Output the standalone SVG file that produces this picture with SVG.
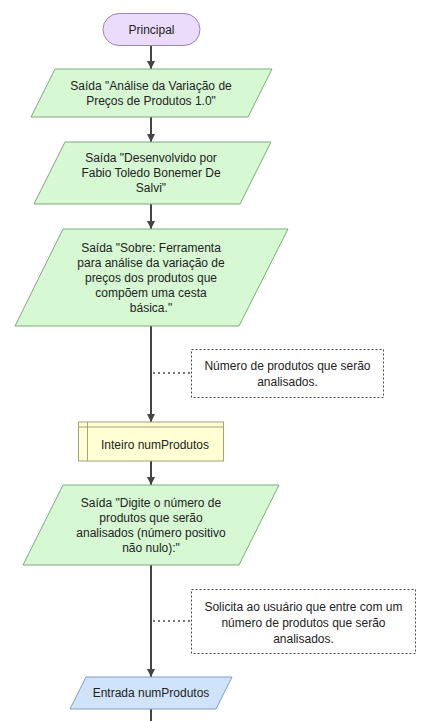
<svg xmlns="http://www.w3.org/2000/svg" width="436" height="721" viewBox="0 0 436 721">
<style>
text{font-family:"Liberation Sans",Arial,sans-serif;font-size:12px;fill:#222;text-anchor:middle;dominant-baseline:central}
.out{fill:#d6f8d3;stroke:#7fa97c;stroke-width:1}
.in{fill:#cfe4fb;stroke:#7d9ec4;stroke-width:1}
.term{fill:#ebdcfb;stroke:#9d82bd;stroke-width:1}
.decl{fill:#ffffd3;stroke:#a3a379;stroke-width:1}
.flow{stroke:#444;stroke-width:2;fill:none}
.note{fill:#fff;stroke:#444;stroke-width:1;stroke-dasharray:2,2}
.dot{stroke:#777;stroke-width:2;stroke-dasharray:2,3;fill:none}
</style>
<defs>
<marker id="ah" viewBox="0 0 8 8" refX="8" refY="4" markerWidth="8" markerHeight="8" markerUnits="userSpaceOnUse" orient="auto">
<path d="M0,0 L8,4 L0,8 z" fill="#444"/>
</marker>
</defs>
<rect width="436" height="721" fill="#fff"/>
<g id="connectors">
<line class="flow" x1="151" y1="46" x2="151" y2="69" marker-end="url(#ah)"/>
<line class="flow" x1="151" y1="117" x2="151" y2="142" marker-end="url(#ah)"/>
<line class="flow" x1="151" y1="204" x2="151" y2="229" marker-end="url(#ah)"/>
<line class="flow" x1="151" y1="326" x2="151" y2="422" marker-end="url(#ah)"/>
<line class="flow" x1="151" y1="461" x2="151" y2="485" marker-end="url(#ah)"/>
<line class="flow" x1="151" y1="565" x2="151" y2="677" marker-end="url(#ah)"/>
<line class="flow" x1="151" y1="709" x2="151" y2="721"/>
<line class="dot" x1="153" y1="373" x2="191" y2="373"/>
<line class="dot" x1="153" y1="621" x2="191" y2="621"/>
</g>
<g id="n_principal">
<rect class="term" x="103" y="13.5" width="97" height="32" rx="16"/>
<text x="151.5" y="29.5">Principal</text>
</g>
<g id="n_saida1">
<polygon class="out" points="55,69 272,69 248,117 31,117"/>
<text x="151" y="86">Saída "Análise da Variação de</text>
<text x="151" y="101">Preços de Produtos 1.0"</text>
</g>
<g id="n_saida2">
<polygon class="out" points="65,142 271,142 240,204 34,204"/>
<text x="151" y="158">Saída "Desenvolvido por</text>
<text x="151" y="173">Fabio Toledo Bonemer De</text>
<text x="151" y="188">Salvi"</text>
</g>
<g id="n_saida3">
<polygon class="out" points="63,229 288,229 239,326 15,326"/>
<text x="151" y="247.5">Saída "Sobre: Ferramenta</text>
<text x="151" y="262.5">para análise da variação de</text>
<text x="151" y="277.5">preços dos produtos que</text>
<text x="151" y="292.5">compõem uma cesta</text>
<text x="151" y="307.5">básica."</text>
</g>
<g id="c_note1">
<rect class="note" x="191.5" y="349.5" width="192" height="48"/>
<text x="287.5" y="365.5">Número de produtos que serão</text>
<text x="287.5" y="381.5">analisados.</text>
</g>
<g id="n_decl">
<rect class="decl" x="78.5" y="422" width="145" height="39"/>
<line x1="78.5" y1="427" x2="223.5" y2="427" stroke="#a3a379" stroke-width="1"/>
<line x1="87.5" y1="422" x2="87.5" y2="461" stroke="#a3a379" stroke-width="1"/>
<text x="155" y="445">Inteiro numProdutos</text>
</g>
<g id="n_saida4">
<polygon class="out" points="63,485 279,485 239,565 23,565"/>
<text x="151" y="502.5">Saída "Digite o número de</text>
<text x="151" y="517.5">produtos que serão</text>
<text x="151" y="532.5">analisados (número positivo</text>
<text x="151" y="547.5">não nulo):"</text>
</g>
<g id="c_note2">
<rect class="note" x="191.5" y="589.5" width="224" height="64"/>
<text x="303.5" y="606.5">Solicita ao usuário que entre com um</text>
<text x="303.5" y="622.5">número de produtos que serão</text>
<text x="303.5" y="638.5">analisados.</text>
</g>
<g id="n_entrada">
<polygon class="in" points="86,677 232,677 216,709 70,709"/>
<text x="151" y="693">Entrada numProdutos</text>
</g>
</svg>
